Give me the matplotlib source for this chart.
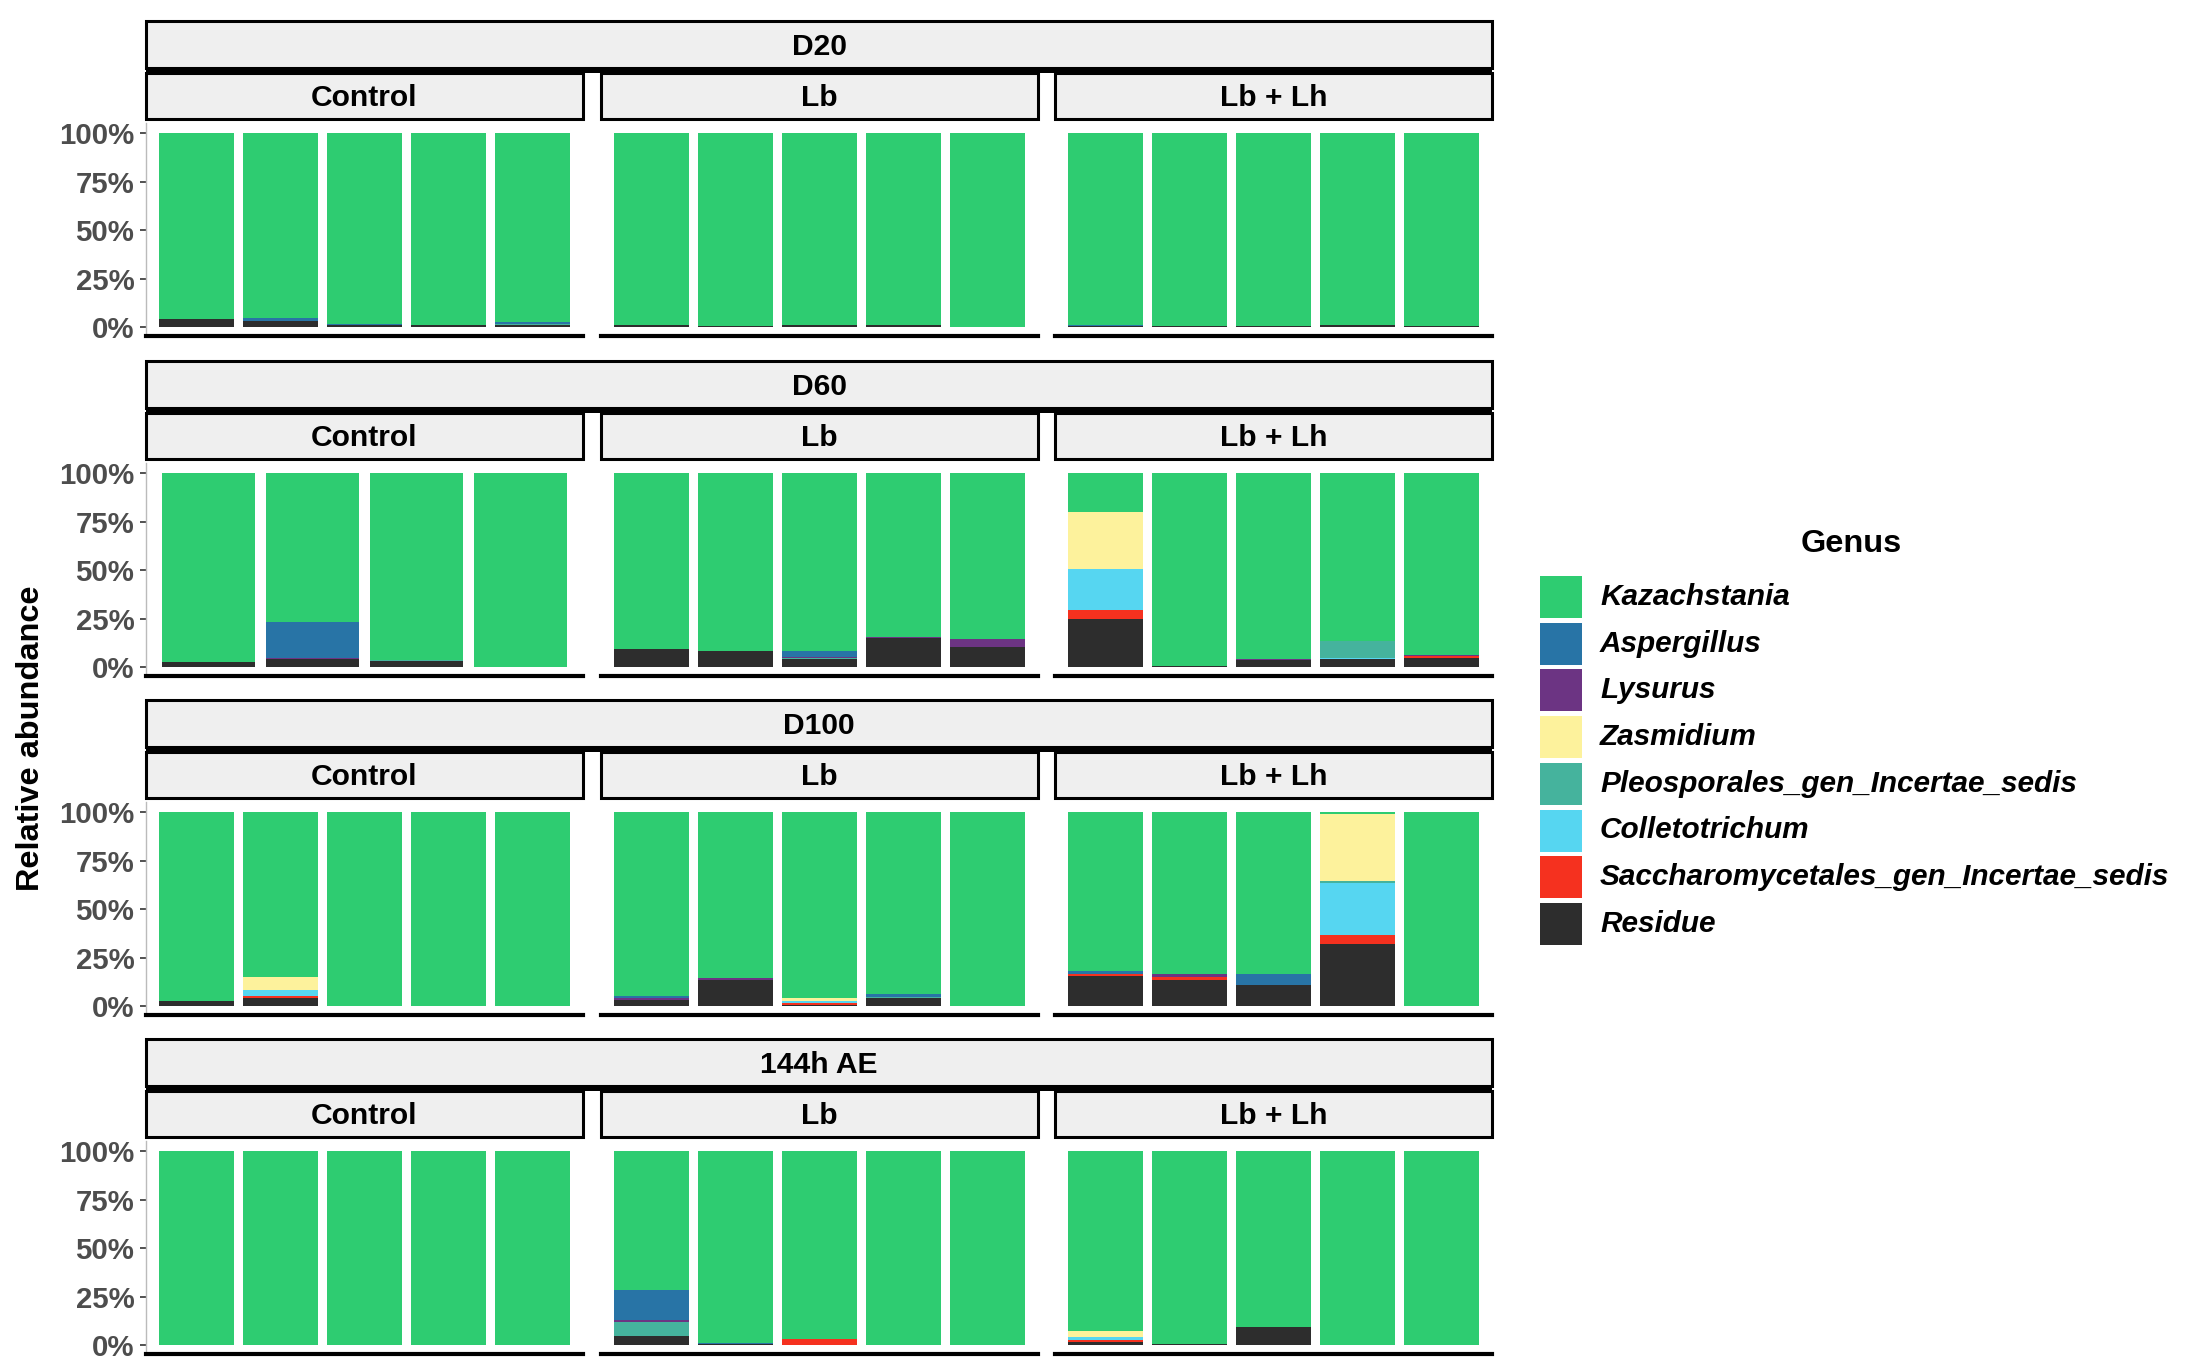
#!/usr/bin/env python3
"""Stacked genus-level relative abundance by time point and treatment."""

import matplotlib

matplotlib.use("Agg")
import matplotlib.pyplot as plt
from matplotlib.patches import Rectangle

plt.rcParams["font.family"] = ["Liberation Sans", "DejaVu Sans"]

TIMES = ["D20", "D60", "D100", "144h AE"]
GROUPS = ["Control", "Lb", "Lb + Lh"]
# samples per panel, rows = time points, cols = groups
N_SAMPLES = [[5, 5, 5], [4, 5, 5], [5, 5, 5], [5, 5, 5]]

# legend order (top to bottom); stacking goes the other way
GENERA = [
    "Kazachstania",
    "Aspergillus",
    "Lysurus",
    "Zasmidium",
    "Pleosporales_gen_Incertae_sedis",
    "Colletotrichum",
    "Saccharomycetales_gen_Incertae_sedis",
    "Residue",
]
COLORS = ["#2ECC71", "#2874A6", "#6C3483", "#FDF29C", "#45B39D", "#56D6F1", "#F5311F", "#2D2D2D"]

# relative abundance (%) per sample, panels ordered D20 C/Lb/LbLh, D60 ..., D100 ..., 144h ...
kazachstania = [
    96.0, 95.3, 98.2, 98.8, 97.4, 98.8, 99.3, 98.8, 98.8, 99.8, 98.6, 99.4, 99.4, 98.8, 99.4,
    97.4, 76.7, 96.4, 99.8, 90.8, 91.5, 91.8, 84.4, 85.2, 19.8, 99.1, 95.7, 86.5, 93.8,
    97.5, 85.0, 100, 100, 100, 94.8, 85.3, 95.5, 93.7, 100, 82.0, 83.6, 83.5, 1.0, 100,
    100, 100, 100, 100, 100, 71.5, 99.0, 96.9, 100, 100, 92.4, 99.5, 90.8, 100, 100,
]
aspergillus = [
    0, 1.7, 0.6, 0, 0.8, 0, 0, 0, 0, 0, 0.6, 0, 0, 0, 0,
    0, 18.5, 0, 0, 0, 0, 2.7, 0, 0, 0, 0, 0, 0, 0,
    0, 0, 0, 0, 0, 0.9, 0, 0, 1.5, 0, 1.5, 0, 5.8, 0, 0,
    0, 0, 0, 0, 0, 15.6, 0.5, 0, 0, 0, 0, 0, 0, 0, 0,
]
lysurus = [
    0, 0, 0, 0, 0, 0, 0, 0, 0, 0, 0, 0, 0, 0, 0,
    0, 0.5, 0, 0, 0, 0, 0.7, 0.4, 4.6, 0, 0, 0.6, 0, 0.6,
    0, 0, 0, 0, 0, 0.9, 1.0, 0, 0, 0, 0, 1.2, 0, 0, 0,
    0, 0, 0, 0, 0, 0.9, 0, 0, 0, 0, 0, 0, 0, 0, 0,
]
zasmidium = [
    0, 0, 0, 0, 0, 0, 0, 0, 0, 0, 0, 0, 0, 0, 0,
    0, 0, 0, 0, 0, 0, 0, 0, 0, 29.5, 0, 0, 0, 0,
    0, 6.5, 0, 0, 0, 0, 0, 1.9, 0, 0, 0, 0, 0, 34.7, 0,
    0, 0, 0, 0, 0, 0, 0, 0, 0, 0, 3.1, 0, 0, 0, 0,
]
pleosporales = [
    0, 0, 0, 0, 0.8, 0, 0, 0, 0, 0, 0, 0, 0, 0, 0,
    0, 0, 0.6, 0, 0, 0, 0.5, 0, 0, 0, 0.4, 0, 8.6, 0,
    0, 0, 0, 0, 0, 0, 0, 0, 0.3, 0, 0, 0, 0, 0.8, 0,
    0, 0, 0, 0, 0, 7.0, 0, 0, 0, 0, 0, 0, 0, 0, 0,
]
colletotrichum = [
    0, 0, 0, 0, 0, 0, 0, 0, 0, 0, 0, 0, 0, 0, 0,
    0, 0, 0, 0, 0, 0, 0, 0, 0, 21.1, 0, 0, 0.6, 0,
    0, 3.3, 0, 0, 0, 0, 0, 0.9, 0, 0, 0, 0, 0, 27.0, 0,
    0, 0, 0, 0, 0, 0, 0, 0, 0, 0, 1.9, 0, 0, 0, 0,
]
saccharomycetales = [
    0, 0, 0, 0, 0, 0, 0, 0, 0, 0, 0, 0, 0, 0, 0,
    0, 0, 0, 0, 0, 0, 0, 0, 0, 4.6, 0, 0, 0, 1.0,
    0, 0.7, 0, 0, 0, 0, 0, 1.0, 0, 0, 1.0, 1.5, 0, 4.5, 0,
    0, 0, 0, 0, 0, 0, 0, 3.1, 0, 0, 0.9, 0, 0, 0, 0,
]
residue = [
    4.0, 3.0, 1.2, 1.2, 1.0, 1.2, 0.7, 1.2, 1.2, 0.2, 0.8, 0.6, 0.6, 1.2, 0.6,
    2.6, 4.3, 3.0, 0.2, 9.2, 8.5, 4.3, 15.2, 10.2, 25.0, 0.5, 3.7, 4.3, 4.6,
    2.5, 4.5, 0, 0, 0, 3.4, 13.7, 0.7, 4.5, 0, 15.5, 13.7, 10.7, 32.0, 0,
    0, 0, 0, 0, 0, 5.0, 0.5, 0, 0, 0, 1.7, 0.5, 9.2, 0, 0,
]

SERIES = [kazachstania, aspergillus, lysurus, zasmidium, pleosporales,
          colletotrichum, saccharomycetales, residue]

W, H, DPI = 2186, 1372, 200
PANEL_X = [(146, 583), (601, 1038), (1055, 1492)]
ROW_TOP = [21, 361, 700, 1039]
STRIP_FILL = "#EFEFEF"


def px_axes(fig, x0, y0, x1, y1):
    return fig.add_axes([x0 / W, 1 - y1 / H, (x1 - x0) / W, (y1 - y0) / H])


def draw_panel(ax, start, n, first_col):
    xs = list(range(1, n + 1))
    bottom = [0.0] * n
    # stack from Residue upward, so reverse the legend order
    for values, color in zip(SERIES[::-1], COLORS[::-1]):
        vals = values[start:start + n]
        ax.bar(xs, vals, width=0.9, bottom=bottom, color=color, linewidth=0)
        bottom = [b + v for b, v in zip(bottom, vals)]
    ax.set_xlim(0.4, n + 0.6)
    ax.set_ylim(-4.5, 105.2)
    ax.set_xticks([])
    for side in ("top", "right"):
        ax.spines[side].set_visible(False)
    ax.spines["bottom"].set_linewidth(1.5)
    ax.spines["bottom"].set_color("black")
    if first_col:
        ax.set_yticks([0, 25, 50, 75, 100])
        ax.set_yticklabels(["0%", "25%", "50%", "75%", "100%"])
        ax.tick_params(axis="y", length=2.2, width=0.6, color="#333333", pad=2,
                       labelsize=10.6, labelcolor="#4D4D4D")
        for lab in ax.get_yticklabels():
            lab.set_fontweight("bold")
        ax.spines["left"].set_linewidth(0.5)
        ax.spines["left"].set_color("#BBBBBB")
    else:
        ax.set_yticks([])
        ax.spines["left"].set_visible(False)


def main() -> None:
    fig = plt.figure(figsize=(W / DPI, H / DPI), dpi=DPI)
    overlay = fig.add_axes([0, 0, 1, 1])
    overlay.set_xlim(0, W)
    overlay.set_ylim(H, 0)
    overlay.axis("off")
    overlay.patch.set_visible(False)

    start = 0
    for r, time in enumerate(TIMES):
        top = ROW_TOP[r]
        # outer strip with heavy bottom rule
        overlay.add_patch(Rectangle((PANEL_X[0][0], top), PANEL_X[2][1] - PANEL_X[0][0], 47,
                                    facecolor=STRIP_FILL, edgecolor="black", linewidth=1.1))
        overlay.add_patch(Rectangle((PANEL_X[0][0], top + 46), PANEL_X[2][1] - PANEL_X[0][0], 6,
                                    facecolor="black", edgecolor="none"))
        overlay.text((PANEL_X[0][0] + PANEL_X[2][1]) / 2, top + 26, time, ha="center",
                     va="center", fontsize=10.8, fontweight="bold")
        for c, group in enumerate(GROUPS):
            x0, x1 = PANEL_X[c]
            overlay.add_patch(Rectangle((x0, top + 52), x1 - x0, 46, facecolor=STRIP_FILL,
                                        edgecolor="black", linewidth=1.1))
            overlay.text((x0 + x1) / 2, top + 77, group, ha="center", va="center",
                         fontsize=10.8, fontweight="bold")
            n = N_SAMPLES[r][c]
            ax = px_axes(fig, x0, top + 102, x1, top + 315)
            draw_panel(ax, start, n, c == 0)
            start += n

    overlay.text(31, 738, "Relative abundance", rotation=90, ha="center", va="center",
                 fontsize=11.7, fontweight="bold")

    # legend
    overlay.text(1851, 544, "Genus", ha="center", va="center", fontsize=11.7, fontweight="bold")
    for i, (name, color) in enumerate(zip(GENERA, COLORS)):
        y = 576 + 46.7 * i
        overlay.add_patch(Rectangle((1540, y), 42, 42, facecolor=color, edgecolor="none"))
        overlay.text(1600, y + 21, name, ha="left", va="center", fontsize=10.7,
                     fontweight="bold", fontstyle="italic")

    fig.savefig("out.png", dpi=DPI)
    plt.close(fig)


if __name__ == "__main__":
    main()
